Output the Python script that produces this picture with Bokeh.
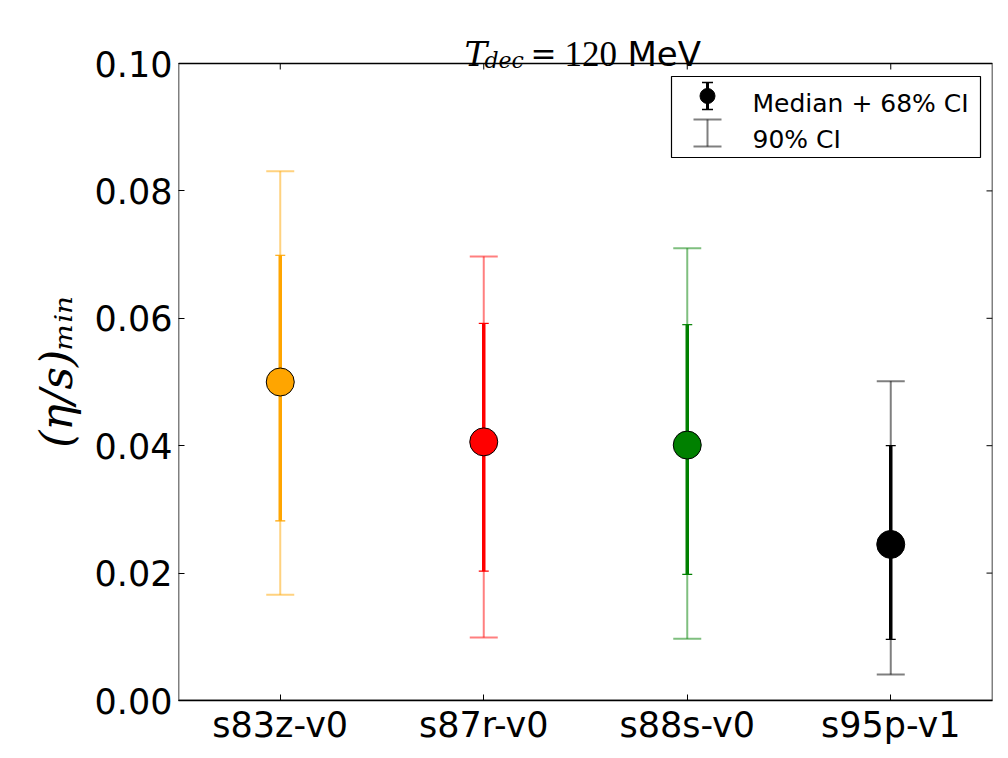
from bokeh.plotting import figure
from bokeh.models import (ColumnDataSource, FactorRange, Range1d, Whisker, TeeHead,
                          Label, BoxAnnotation, FixedTicker, PrintfTickFormatter)
from bokeh.embed import file_html
from bokeh.resources import INLINE

# ---- data ----
categories = ["s83z-v0", "s87r-v0", "s88s-v0", "s95p-v1"]
median = [0.0500, 0.0406, 0.0401, 0.0245]
ci68_low = [0.0282, 0.0203, 0.0198, 0.0096]
ci68_high = [0.0699, 0.0592, 0.0590, 0.0400]
ci90_low = [0.0166, 0.0099, 0.0097, 0.0041]
ci90_high = [0.0831, 0.0697, 0.0710, 0.0501]
colors = ["orange", "red", "green", "black"]
yticks = [0.00, 0.02, 0.04, 0.06, 0.08, 0.10]
legend_labels = ["Median + 68% CI", "90% CI"]

# ---- layout (pixels) ----
W, H = 1000, 750
B_LEFT, B_RIGHT, B_TOP, B_BOTTOM = 178, 8, 15, 50
FRAME_W = W - B_LEFT - B_RIGHT
AXES_H = 637                      # height of the boxed axes area (0 .. 0.10)
FRAME_H = H - B_TOP - B_BOTTOM    # frame also holds the title area above the box
y_top = yticks[-1] * FRAME_H / AXES_H

p = figure(width=W, height=H,
           x_range=FactorRange(*categories), y_range=Range1d(0, y_top),
           output_backend="svg", toolbar_location=None,
           min_border_left=B_LEFT, min_border_right=B_RIGHT,
           min_border_top=B_TOP, min_border_bottom=B_BOTTOM)
p.background_fill_color = "white"
p.border_fill_color = "white"
p.outline_line_color = None
p.xgrid.visible = False
p.ygrid.visible = False

for ax in (p.xaxis[0], p.yaxis[0]):
    ax.major_tick_in = 6
    ax.major_tick_out = 0
    ax.minor_tick_in = 0
    ax.minor_tick_out = 0
    ax.major_tick_line_color = "black"
    ax.major_label_text_font = "DejaVu Sans"
    ax.major_label_text_font_size = "35px"
    ax.major_label_text_color = "black"
p.xaxis.axis_line_color = "black"
p.xaxis.axis_line_width = 1.5
p.yaxis.axis_line_color = None
p.xaxis.major_label_standoff = 4
p.yaxis.major_label_standoff = 6
p.yaxis.ticker = FixedTicker(ticks=yticks)
p.yaxis.formatter = PrintfTickFormatter(format="%.2f")
p.yaxis.axis_label = "(η/s)ₘᵢₙ\u00a0\u00a0"
p.yaxis.axis_label_text_font = "DejaVu Serif"
p.yaxis.axis_label_text_font_style = "italic"
p.yaxis.axis_label_text_font_size = "44px"
p.yaxis.axis_label_text_color = "black"
p.yaxis.axis_label_standoff = 10

# box around the axes area (0 .. 0.10)
p.add_layout(BoxAnnotation(bottom=yticks[0], top=yticks[-1], fill_alpha=0,
                           line_color="black", line_alpha=1, line_width=1.5,
                           level="overlay"))

# mirrored ticks on the right and top edges
rsrc = ColumnDataSource(dict(y=yticks))
p.add_layout(Whisker(base="y", lower=FRAME_W - 6, upper=FRAME_W, source=rsrc,
                     dimension="width", lower_units="screen", upper_units="screen",
                     line_color="black", line_width=1, level="overlay",
                     upper_head=None, lower_head=None))
tsrc = ColumnDataSource(dict(x=categories))
p.add_layout(Whisker(base="x", lower=AXES_H - 6, upper=AXES_H, source=tsrc,
                     dimension="height", lower_units="screen", upper_units="screen",
                     line_color="black", line_width=1, level="overlay",
                     upper_head=None, lower_head=None))

# ---- error bars ----
for i, cat in enumerate(categories):
    src = ColumnDataSource(dict(x=[cat], lo90=[ci90_low[i]], hi90=[ci90_high[i]],
                                lo68=[ci68_low[i]], hi68=[ci68_high[i]]))
    c = colors[i]
    w90 = Whisker(base="x", lower="lo90", upper="hi90", source=src, level="underlay",
                  line_color=c, line_alpha=0.5, line_width=2,
                  upper_head=TeeHead(size=28, line_color=c, line_alpha=0.5, line_width=2),
                  lower_head=TeeHead(size=28, line_color=c, line_alpha=0.5, line_width=2))
    w68 = Whisker(base="x", lower="lo68", upper="hi68", source=src, level="underlay",
                  line_color=c, line_width=3.5,
                  upper_head=TeeHead(size=10, line_color=c, line_width=1.2),
                  lower_head=TeeHead(size=10, line_color=c, line_width=1.2))
    p.add_layout(w90)
    p.add_layout(w68)

msrc = ColumnDataSource(dict(x=categories, y=median, color=colors))
p.scatter(x="x", y="y", source=msrc, size=28, marker="circle",
          fill_color="color", line_color="black", line_width=1)

# ---- legend (screen units relative to the frame) ----
p.add_layout(BoxAnnotation(left=493, right=802, bottom=543, top=624,
                           left_units="screen", right_units="screen",
                           bottom_units="screen", top_units="screen",
                           fill_color="white", fill_alpha=1,
                           line_color="black", line_alpha=1, line_width=1.2,
                           level="annotation"))
lsrc1 = ColumnDataSource(dict(b=[529], u=[618], l=[591]))
p.add_layout(Whisker(base="b", upper="u", lower="l", source=lsrc1, level="annotation",
                     base_units="screen", upper_units="screen", lower_units="screen",
                     line_color="black", line_width=3,
                     upper_head=TeeHead(size=11, line_color="black", line_width=1.5),
                     lower_head=TeeHead(size=11, line_color="black", line_width=1.5)))
p.add_layout(BoxAnnotation(left=521.5, right=536.5, bottom=597, top=612,
                           left_units="screen", right_units="screen",
                           bottom_units="screen", top_units="screen",
                           border_radius=8, fill_color="black", fill_alpha=1,
                           line_color="black", line_alpha=1, line_width=1,
                           level="annotation"))
lsrc2 = ColumnDataSource(dict(b=[529], u=[581], l=[554]))
p.add_layout(Whisker(base="b", upper="u", lower="l", source=lsrc2, level="annotation",
                     base_units="screen", upper_units="screen", lower_units="screen",
                     line_color="black", line_alpha=0.5, line_width=2,
                     upper_head=TeeHead(size=28, line_color="black", line_alpha=0.5, line_width=2),
                     lower_head=TeeHead(size=28, line_color="black", line_alpha=0.5, line_width=2)))
for txt, yb in zip(legend_labels, [597, 561]):
    p.add_layout(Label(x=574, y=yb, x_units="screen", y_units="screen", text=txt,
                       text_font="DejaVu Sans", text_font_size="25px",
                       text_color="black", text_baseline="alphabetic", text_align="left"))


def lab(x, y, t, font, size, style="normal"):
    p.add_layout(Label(x=x, y=y, x_units="screen", y_units="screen", text=t,
                       text_font=font, text_font_size=size, text_font_style=style,
                       text_color="black", text_baseline="alphabetic", text_align="left"))


# ---- title: T_dec = 120 MeV (inside the frame, above the box) ----
lab(286, 647, "T", "DejaVu Serif", "34px", "italic")
lab(306, 640, "dec", "DejaVu Serif", "22px", "italic")
lab(352, 647, "=", "DejaVu Serif", "31px")
lab(386, 647, "120", "Liberation Serif", "35px")
lab(449, 647, "MeV", "DejaVu Sans", "34px")

open("out.html", "w").write(file_html(p, INLINE))
